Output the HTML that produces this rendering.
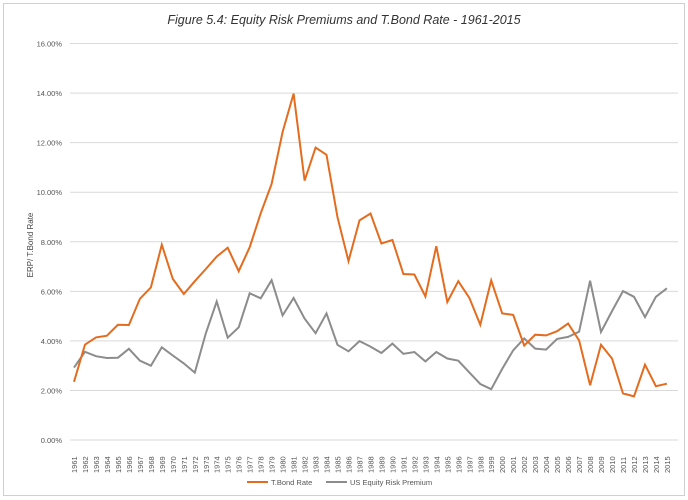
<!DOCTYPE html>
<html><head><style>
body{margin:0;background:#fff;}
svg{display:block;font-family:"Liberation Sans",sans-serif;}
</style></head><body>
<svg id="c" width="688" height="500" xmlns="http://www.w3.org/2000/svg">
<rect x="3.5" y="3.5" width="681" height="492" fill="#fff" stroke="#d0d0d0"/>
<text x="344" y="24" font-size="12.5" font-style="italic" text-anchor="middle" fill="#333">Figure 5.4: Equity Risk Premiums and T.Bond Rate - 1961-2015</text>
<text transform="translate(33,245) rotate(-90)" font-size="8" text-anchor="middle" fill="#444">ERP/ T.Bond Rate</text>
<g id="g"></g>
<line x1="247" y1="482" x2="268" y2="482" stroke="#E46C1F" stroke-width="2"/>
<text x="271" y="485" font-size="7.5" fill="#555">T.Bond Rate</text>
<line x1="326" y1="482" x2="347" y2="482" stroke="#8C8C8C" stroke-width="2"/>
<text x="350" y="485" font-size="7.5" fill="#555">US Equity Risk Premium</text>
</svg>
<script>
var tb=[2.35,3.85,4.14,4.21,4.65,4.64,5.70,6.16,7.88,6.50,5.89,6.41,6.90,7.40,7.76,6.81,7.78,9.15,10.33,12.43,13.98,10.47,11.80,11.51,8.99,7.22,8.86,9.14,7.93,8.07,6.70,6.68,5.79,7.82,5.57,6.41,5.74,4.65,6.44,5.11,5.05,3.81,4.25,4.22,4.39,4.70,4.02,2.21,3.84,3.29,1.88,1.76,3.04,2.17,2.27];
var erp=[2.92,3.56,3.38,3.31,3.32,3.68,3.20,3.00,3.74,3.41,3.09,2.72,4.30,5.59,4.13,4.55,5.92,5.72,6.45,5.03,5.73,4.90,4.31,5.11,3.84,3.58,3.99,3.77,3.51,3.89,3.48,3.55,3.17,3.55,3.29,3.20,2.73,2.26,2.05,2.87,3.62,4.10,3.69,3.65,4.08,4.16,4.37,6.43,4.36,5.20,6.01,5.78,4.96,5.78,6.12];
var s='',y0=440,k=24.78,x0=74,dx=10.98;
for(var i=0;i<=8;i++){var y=y0-i*2*k;s+='<line x1="70" x2="678" y1="'+y+'" y2="'+y+'" stroke="#d9d9d9"/>';
s+='<text x="62" y="'+(y+3)+'" font-size="7.5" text-anchor="end" fill="#555">'+(i*2).toFixed(2)+'%</text>';}
for(var i=0;i<55;i++){var x=x0+i*dx;s+='<text transform="translate('+(x+3)+',473) rotate(-90)" font-size="7.5" fill="#555">'+(1961+i)+'</text>';}
function pl(d,c){return '<polyline fill="none" stroke="'+c+'" stroke-width="2" points="'+d.map(function(v,i){return (x0+i*dx).toFixed(1)+','+(y0-v*k).toFixed(1)}).join(' ')+'"/>';}
s+=pl(erp,'#8C8C8C')+pl(tb,'#E46C1F');
document.getElementById('g').innerHTML=s;
</script>
</body></html>
